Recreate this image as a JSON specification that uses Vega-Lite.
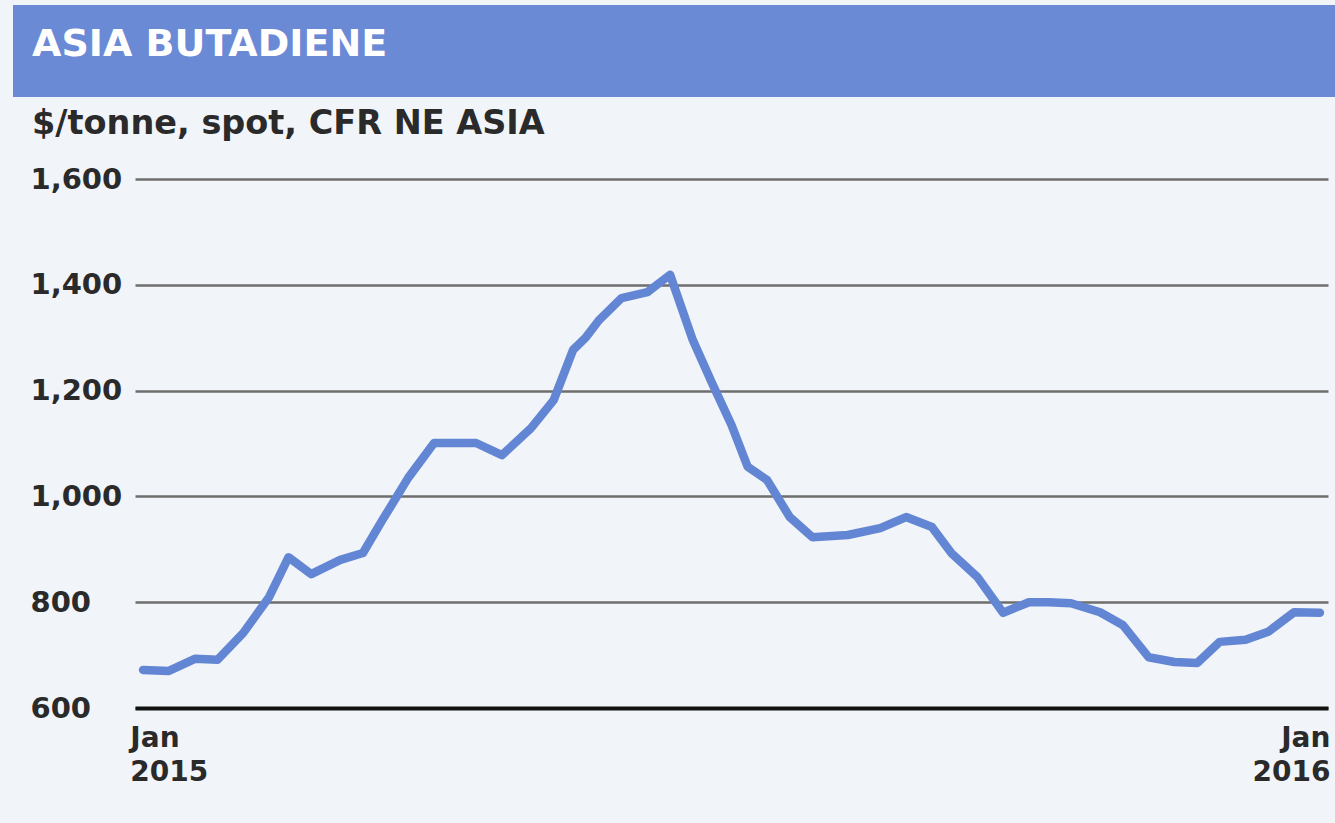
{
  "$schema": "https://vega.github.io/schema/vega-lite/v6.json",
  "autosize": "none",
  "width": 1193,
  "height": 529,
  "padding": {"left": 135, "top": 179, "right": 7, "bottom": 115},
  "background": "#f1f4f8",
  "config": {
    "view": {"stroke": null},
    "font": "DejaVu Sans"
  },
  "title": {
    "text": "ASIA BUTADIENE",
    "subtitle": "$/tonne, spot, CFR NE ASIA",
    "anchor": "start",
    "frame": "group",
    "dx": -103,
    "offset": -136,
    "font": "DejaVu Sans",
    "fontSize": 38,
    "fontWeight": "bold",
    "color": "#ffffff",
    "subtitleFont": "DejaVu Sans",
    "subtitleFontSize": 33.5,
    "subtitleFontWeight": "bold",
    "subtitleColor": "#2a2a2a",
    "subtitlePadding": 44
  },
  "data": {
    "values": [
      {"date": "2015-01-02", "price": 672},
      {"date": "2015-01-10", "price": 670},
      {"date": "2015-01-18", "price": 693},
      {"date": "2015-01-25", "price": 691},
      {"date": "2015-02-02", "price": 742},
      {"date": "2015-02-10", "price": 810},
      {"date": "2015-02-16", "price": 885},
      {"date": "2015-02-23", "price": 853},
      {"date": "2015-03-04", "price": 880},
      {"date": "2015-03-11", "price": 893},
      {"date": "2015-03-17", "price": 955},
      {"date": "2015-03-25", "price": 1035},
      {"date": "2015-04-02", "price": 1101},
      {"date": "2015-04-09", "price": 1101},
      {"date": "2015-04-15", "price": 1101},
      {"date": "2015-04-23", "price": 1078},
      {"date": "2015-05-02", "price": 1129},
      {"date": "2015-05-09", "price": 1182},
      {"date": "2015-05-15", "price": 1277},
      {"date": "2015-05-19", "price": 1301},
      {"date": "2015-05-23", "price": 1333},
      {"date": "2015-05-30", "price": 1375},
      {"date": "2015-06-07", "price": 1386},
      {"date": "2015-06-14", "price": 1419},
      {"date": "2015-06-21", "price": 1296},
      {"date": "2015-06-27", "price": 1214},
      {"date": "2015-07-03", "price": 1135},
      {"date": "2015-07-08", "price": 1056},
      {"date": "2015-07-14", "price": 1031},
      {"date": "2015-07-21", "price": 961},
      {"date": "2015-07-28", "price": 923},
      {"date": "2015-08-08", "price": 927},
      {"date": "2015-08-18", "price": 940},
      {"date": "2015-08-26", "price": 961},
      {"date": "2015-09-03", "price": 942},
      {"date": "2015-09-09", "price": 893},
      {"date": "2015-09-17", "price": 848},
      {"date": "2015-09-25", "price": 780},
      {"date": "2015-10-03", "price": 800},
      {"date": "2015-10-09", "price": 800},
      {"date": "2015-10-16", "price": 798},
      {"date": "2015-10-25", "price": 781},
      {"date": "2015-11-01", "price": 757},
      {"date": "2015-11-09", "price": 696},
      {"date": "2015-11-17", "price": 687},
      {"date": "2015-11-24", "price": 685},
      {"date": "2015-12-01", "price": 725},
      {"date": "2015-12-09", "price": 729},
      {"date": "2015-12-16", "price": 744},
      {"date": "2015-12-24", "price": 781},
      {"date": "2016-01-01", "price": 780}
    ]
  },
  "encoding": {
    "x": {
      "field": "date",
      "type": "temporal",
      "scale": {
        "type": "utc",
        "domain": [
          {"year": 2014, "month": 12, "date": 30, "hours": 12, "utc": true},
          {"year": 2016, "month": 1, "date": 3, "hours": 12, "utc": true}
        ]
      },
      "axis": {
        "title": null,
        "values": [
          {"year": 2015, "month": 1, "date": 1, "utc": true},
          {"year": 2016, "month": 1, "date": 1, "utc": true}
        ],
        "labelExpr": "[utcFormat(datum.value, '%b'), utcFormat(datum.value, '%Y')]",
        "labelFlush": 30,
        "labelFlushOffset": 10,
        "labelFont": "DejaVu Sans",
        "labelFontSize": 28,
        "labelFontWeight": "bold",
        "labelColor": "#2a2a2a",
        "labelBaseline": "top",
        "labelLineHeight": 34,
        "labelPadding": 16,
        "ticks": false,
        "tickSize": 0,
        "grid": false,
        "domain": true,
        "domainColor": "#111111",
        "domainWidth": 4
      }
    },
    "y": {
      "field": "price",
      "type": "quantitative",
      "scale": {"domain": [600, 1600], "zero": false, "nice": false},
      "axis": {
        "title": null,
        "values": [600, 800, 1000, 1200, 1400, 1600],
        "format": ",d",
        "labelAlign": "left",
        "labelBaseline": "middle",
        "labelPadding": 105,
        "labelFont": "DejaVu Sans",
        "labelFontSize": 29,
        "labelFontWeight": "bold",
        "labelColor": "#2a2a2a",
        "ticks": false,
        "tickSize": 0,
        "domain": false,
        "grid": true,
        "gridColor": "#6e6e6e",
        "gridWidth": 2.5
      }
    }
  },
  "layer": [
    {
      "mark": {"type": "rect", "color": "#6a8ad6", "clip": false},
      "encoding": {
        "x": {"datum": {"year": 2014, "month": 11, "date": 23, "utc": true}, "type": "temporal"},
        "x2": {"datum": {"year": 2016, "month": 1, "date": 10, "utc": true}},
        "y": {"datum": 1755, "type": "quantitative"},
        "y2": {"datum": 1929}
      }
    },
    {
      "mark": {"type": "line", "color": "#6386d4", "strokeWidth": 8.5, "strokeJoin": "round", "strokeCap": "round"}
    }
  ]
}
